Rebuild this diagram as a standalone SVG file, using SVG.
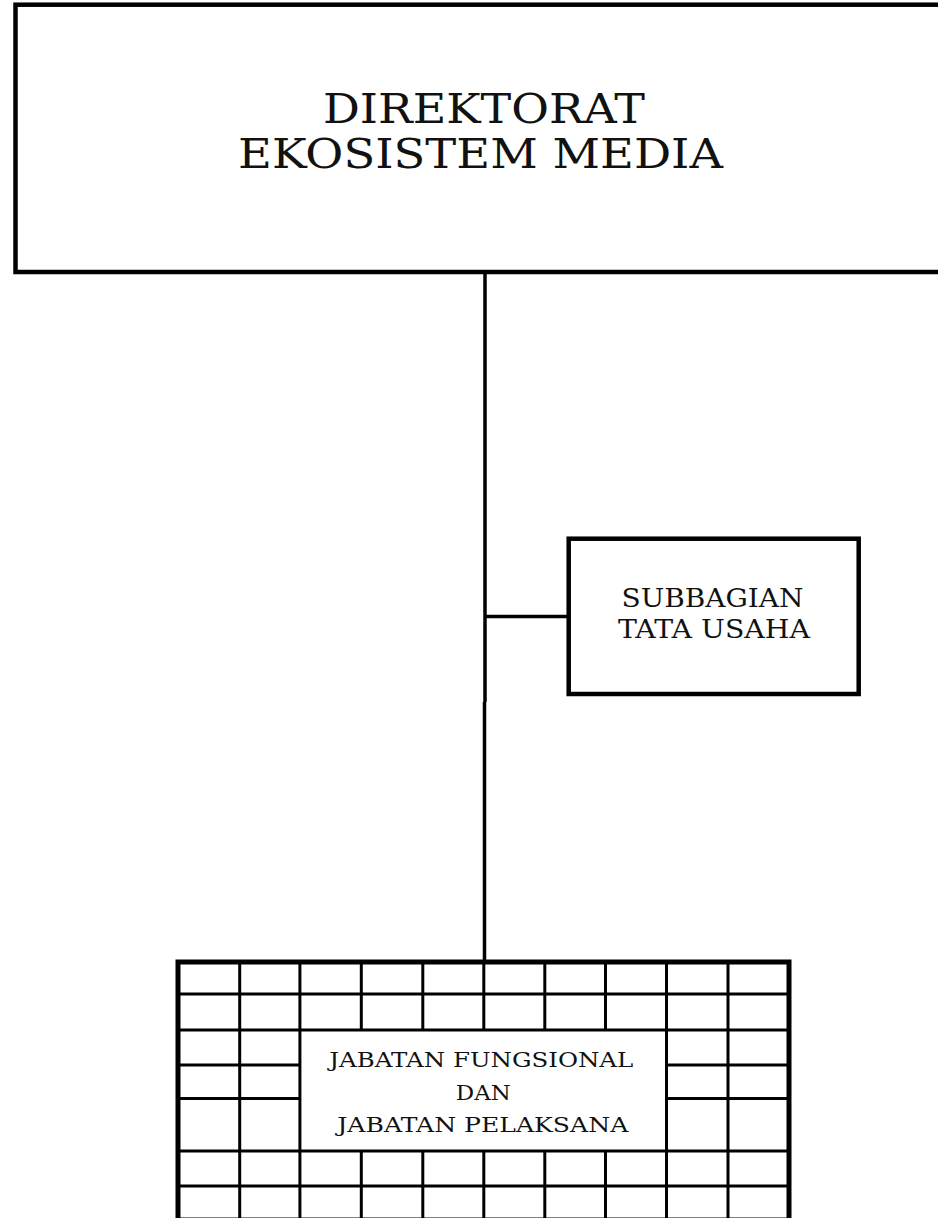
<svg xmlns="http://www.w3.org/2000/svg" width="938" height="1218" viewBox="0 0 938 1218">
  <style>
    .box { fill: #ffffff; stroke: #000000; stroke-width: 4.5; }
    .line { stroke: #000000; stroke-width: 3.5; fill: none; }
    .grid { stroke: #000000; stroke-width: 3; fill: none; }
    .frame { fill: none; stroke: #000000; stroke-width: 5; }
    .lbl { font-family: "DejaVu Serif", "Liberation Serif", serif; fill: #111111; text-anchor: middle; }
  </style>
  <rect x="0" y="0" width="938" height="1218" fill="#ffffff"/>

  <!-- connectors -->
  <g id="connectors">
    <line class="line" x1="485" y1="272" x2="485" y2="702"/>
    <line class="line" x1="484.5" y1="702" x2="484.5" y2="962"/>
    <line class="line" x1="485" y1="616.5" x2="569" y2="616.5"/>
  </g>

  <!-- head office -->
  <g id="direktorat">
    <rect class="box" x="15.5" y="4.7" width="940" height="267.3"/>
    <text class="lbl" font-size="41" x="484" y="123" textLength="322" lengthAdjust="spacingAndGlyphs">DIREKTORAT</text>
    <text class="lbl" font-size="41" x="480.5" y="168" textLength="485" lengthAdjust="spacingAndGlyphs">EKOSISTEM MEDIA</text>
  </g>

  <!-- administration subsection -->
  <g id="subbagian">
    <rect class="box" x="568.7" y="538.7" width="290" height="155.3"/>
    <text class="lbl" font-size="26" x="712.5" y="607" textLength="182" lengthAdjust="spacingAndGlyphs">SUBBAGIAN</text>
    <text class="lbl" font-size="26" x="714" y="638" textLength="192" lengthAdjust="spacingAndGlyphs">TATA USAHA</text>
  </g>

  <!-- functional positions block -->
  <g id="jabatan">
    <rect x="178" y="962" width="611" height="262" fill="#ffffff"/>
    <g class="grid">
      <!-- full-width rows -->
      <line x1="178" y1="994" x2="789" y2="994"/>
      <line x1="178" y1="1030" x2="789" y2="1030"/>
      <line x1="178" y1="1151" x2="789" y2="1151"/>
      <line x1="178" y1="1186" x2="789" y2="1186"/>
      <!-- side rows -->
      <line x1="178" y1="1065" x2="300.2" y2="1065"/>
      <line x1="178" y1="1098.5" x2="300.2" y2="1098.5"/>
      <line x1="666.8" y1="1065" x2="789" y2="1065"/>
      <line x1="666.8" y1="1098.5" x2="789" y2="1098.5"/>
      <!-- full-height columns -->
      <line x1="239.7" y1="962" x2="239.7" y2="1224"/>
      <line x1="299.9" y1="962" x2="299.9" y2="1224"/>
      <line x1="666.5" y1="962" x2="666.5" y2="1224"/>
      <line x1="728" y1="962" x2="728" y2="1224"/>
      <!-- columns broken by the label -->
      <line x1="361.3" y1="962" x2="361.3" y2="1030"/>
      <line x1="422.8" y1="962" x2="422.8" y2="1030"/>
      <line x1="483.8" y1="962" x2="483.8" y2="1030"/>
      <line x1="544.8" y1="962" x2="544.8" y2="1030"/>
      <line x1="605.5" y1="962" x2="605.5" y2="1030"/>
      <line x1="361.3" y1="1151" x2="361.3" y2="1224"/>
      <line x1="422.8" y1="1151" x2="422.8" y2="1224"/>
      <line x1="483.8" y1="1151" x2="483.8" y2="1224"/>
      <line x1="544.8" y1="1151" x2="544.8" y2="1224"/>
      <line x1="605.5" y1="1151" x2="605.5" y2="1224"/>
    </g>
    <rect class="frame" x="178" y="962" width="611" height="258"/>
    <text class="lbl" font-size="21" x="481.3" y="1067" textLength="304" lengthAdjust="spacingAndGlyphs">JABATAN FUNGSIONAL</text>
    <text class="lbl" font-size="21" x="483.3" y="1099.5" textLength="55" lengthAdjust="spacingAndGlyphs">DAN</text>
    <text class="lbl" font-size="21" x="482.8" y="1132" textLength="291" lengthAdjust="spacingAndGlyphs">JABATAN PELAKSANA</text>
  </g>
</svg>
